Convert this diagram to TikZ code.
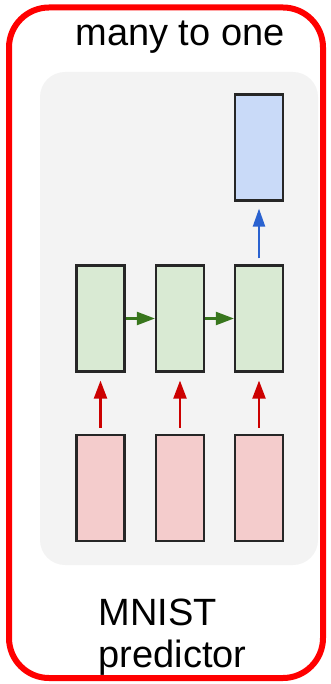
\documentclass[tikz,border=0pt]{standalone}
\usepackage{fontspec}
\setmainfont{Liberation Sans}
\usetikzlibrary{
	arrows.meta,
	positioning
}

\definecolor{cellgreen}{HTML}{D9EAD3}
\definecolor{cellred}{HTML}{F4CCCC}
\definecolor{cellblue}{HTML}{C9DAF8}
\definecolor{flowgreen}{HTML}{38761D}
\definecolor{flowred}{HTML}{CC0000}
\definecolor{flowblue}{HTML}{2A62D0}
\definecolor{panelgray}{HTML}{F3F3F3}

\begin{document}
\begin{tikzpicture}[
		x=1pt, y=-1pt,
		cell/.style={draw=black!85, line width=2.2pt, minimum width=48pt, minimum height=106pt, inner sep=0pt},
		inbox/.style={cell, fill=cellred},
		hidbox/.style={cell, fill=cellgreen},
		outbox/.style={cell, fill=cellblue},
		flow/.style={line width=2.2pt, -{Triangle[length=18pt,width=13pt]}},
		label/.style={font=\fontsize{38}{42}\selectfont}
		]
		\useasboundingbox (0,0) rectangle (331,684);
		
		% =========================
		% Frame and panel
		% =========================
		\draw[red, line width=6pt, rounded corners=40pt] (9,7.5) rectangle (323,678);
		\fill[panelgray, rounded corners=25pt] (40,72) rectangle (318,565);
		
		\node[label, anchor=base] (title) at (180,46) {many to one};
		
		% =========================
		% Cells
		% =========================
		\node[hidbox] (h1) at (100.5,318.5) {};
		\node[hidbox] (h2) at (180,318.5) {};
		\node[hidbox] (h3) at (259,318.5) {};
		
		\node[inbox] (in1) at (100.5,488) {};
		\node[inbox] (in2) at (180,488) {};
		\node[inbox] (in3) at (259,488) {};
		
		\node[outbox] (out) at (259,147.5) {};
		
		% =========================
		% Arrows
		% =========================
		\draw[flow, flowgreen] (h1) -- (h2);
		\draw[flow, flowgreen] (h2) -- (h3);
		
		\draw[flow, flowred, shorten <=6pt, shorten >=8pt] (in1) -- (h1);
		\draw[flow, flowred, shorten <=6pt, shorten >=8pt] (in2) -- (h2);
		\draw[flow, flowred, shorten <=6pt, shorten >=8pt] (in3) -- (h3);
		
		\draw[flow, flowblue, -{Triangle[length=18pt,width=12pt]}, shorten <=6pt, shorten >=7pt] (h3) -- (out);
		
		% caption under the panel
		\node[label, anchor=base west, align=left] (caption) at (95,667) {MNIST\\predictor};
		
	\end{tikzpicture}
\end{document}
